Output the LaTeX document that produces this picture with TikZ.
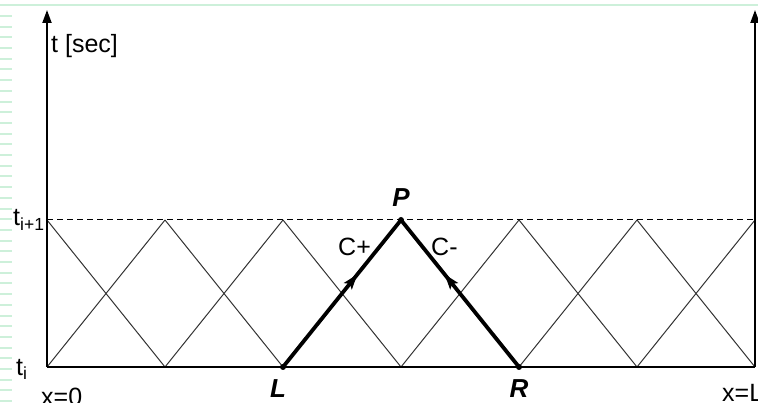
\documentclass[tikz,border=0pt]{standalone}
\usepackage{fontspec}
\setmainfont{Liberation Sans}
\usetikzlibrary{arrows.meta,decorations.markings}
\definecolor{mint}{RGB}{205,240,218}
\tikzset{
  lbl/.style={inner sep=0pt, font=\fontsize{25}{25}\selectfont},
  blbl/.style={inner sep=0pt, font=\fontsize{26}{26}\selectfont\bfseries\itshape},
  thin line/.style={line width=1pt, black!80},
  thick line/.style={line width=3.8pt, line cap=round, line join=round},
  axisline/.style={line width=2pt, -{Triangle[length=13pt,width=9pt]}},
  midarrow/.style={postaction={decorate}, decoration={markings,
     mark=at position #1 with {\arrow{Stealth[length=15pt,width=10pt,inset=3pt]}}}},
  dotmark/.style={circle, fill=black, inner sep=0pt, minimum size=6pt},
}
\begin{document}
\begin{tikzpicture}[x=1pt,y=-1pt]
\useasboundingbox (0,0) rectangle (758,403);
% page border remnants
\draw[mint, line width=2pt] (0,5) -- (758,5);
\foreach \k in {0,...,36} {
  \draw[mint, line width=2pt] (0,{16+10.7*\k}) -- (12,{16+10.7*\k});
}
% vertices
\foreach \i in {0,...,6} {
  \coordinate (b\i) at ({47+118*\i},367);
  \coordinate (t\i) at ({47+118*\i},220);
}
\coordinate (topL) at (47,10);
\coordinate (topR) at (755,10);
% dashed line
\draw[line width=1pt, dash pattern=on 6pt off 4pt] (t0) -- (t6);
% thin characteristic lines
\foreach \i [evaluate=\i as \j using int(\i+1)] in {0,1,3,4,5} {
  \draw[thin line] (b\i) -- (t\j);
}
\foreach \i [evaluate=\i as \j using int(\i-1)] in {1,2,3,5,6} {
  \draw[thin line] (b\i) -- (t\j);
}
% axes
\draw[line width=2pt] (b0) -- (b6);
\draw[axisline] (b0) -- (topL);
\draw[axisline] (b6) -- (topR);
% thick characteristics
\node[dotmark] (L) at (b2) {};
\node[dotmark] (R) at (b4) {};
\node[dotmark] (P) at (t3) {};
\draw[thick line, midarrow=0.63] (L.center) -- (P.center);
\draw[thick line, midarrow=0.63] (R.center) -- (P.center);
% labels
\node[lbl, anchor=base west] (tsec) at (51,53) {t [sec]};
\node[lbl, anchor=base west] (tip1) at (13,226) {t\textsubscript{i+1}};
\node[lbl, anchor=base west] (ti) at (16,375) {t\textsubscript{i}};
\node[lbl, anchor=base west] (x0) at (41,406) {x=0};
\node[lbl, anchor=base west] (xL) at (722,402) {x=L};
\node[lbl, anchor=base west] (cp) at (338,256) {C+};
\node[lbl, anchor=base west] (cm) at (431,256) {C-};
\node[blbl, anchor=base] (Plbl) at (401,207) {P};
\node[blbl, anchor=base] (Llbl) at (278,397) {L};
\node[blbl, anchor=base] (Rlbl) at (519,397) {R};
\end{tikzpicture}
\end{document}
